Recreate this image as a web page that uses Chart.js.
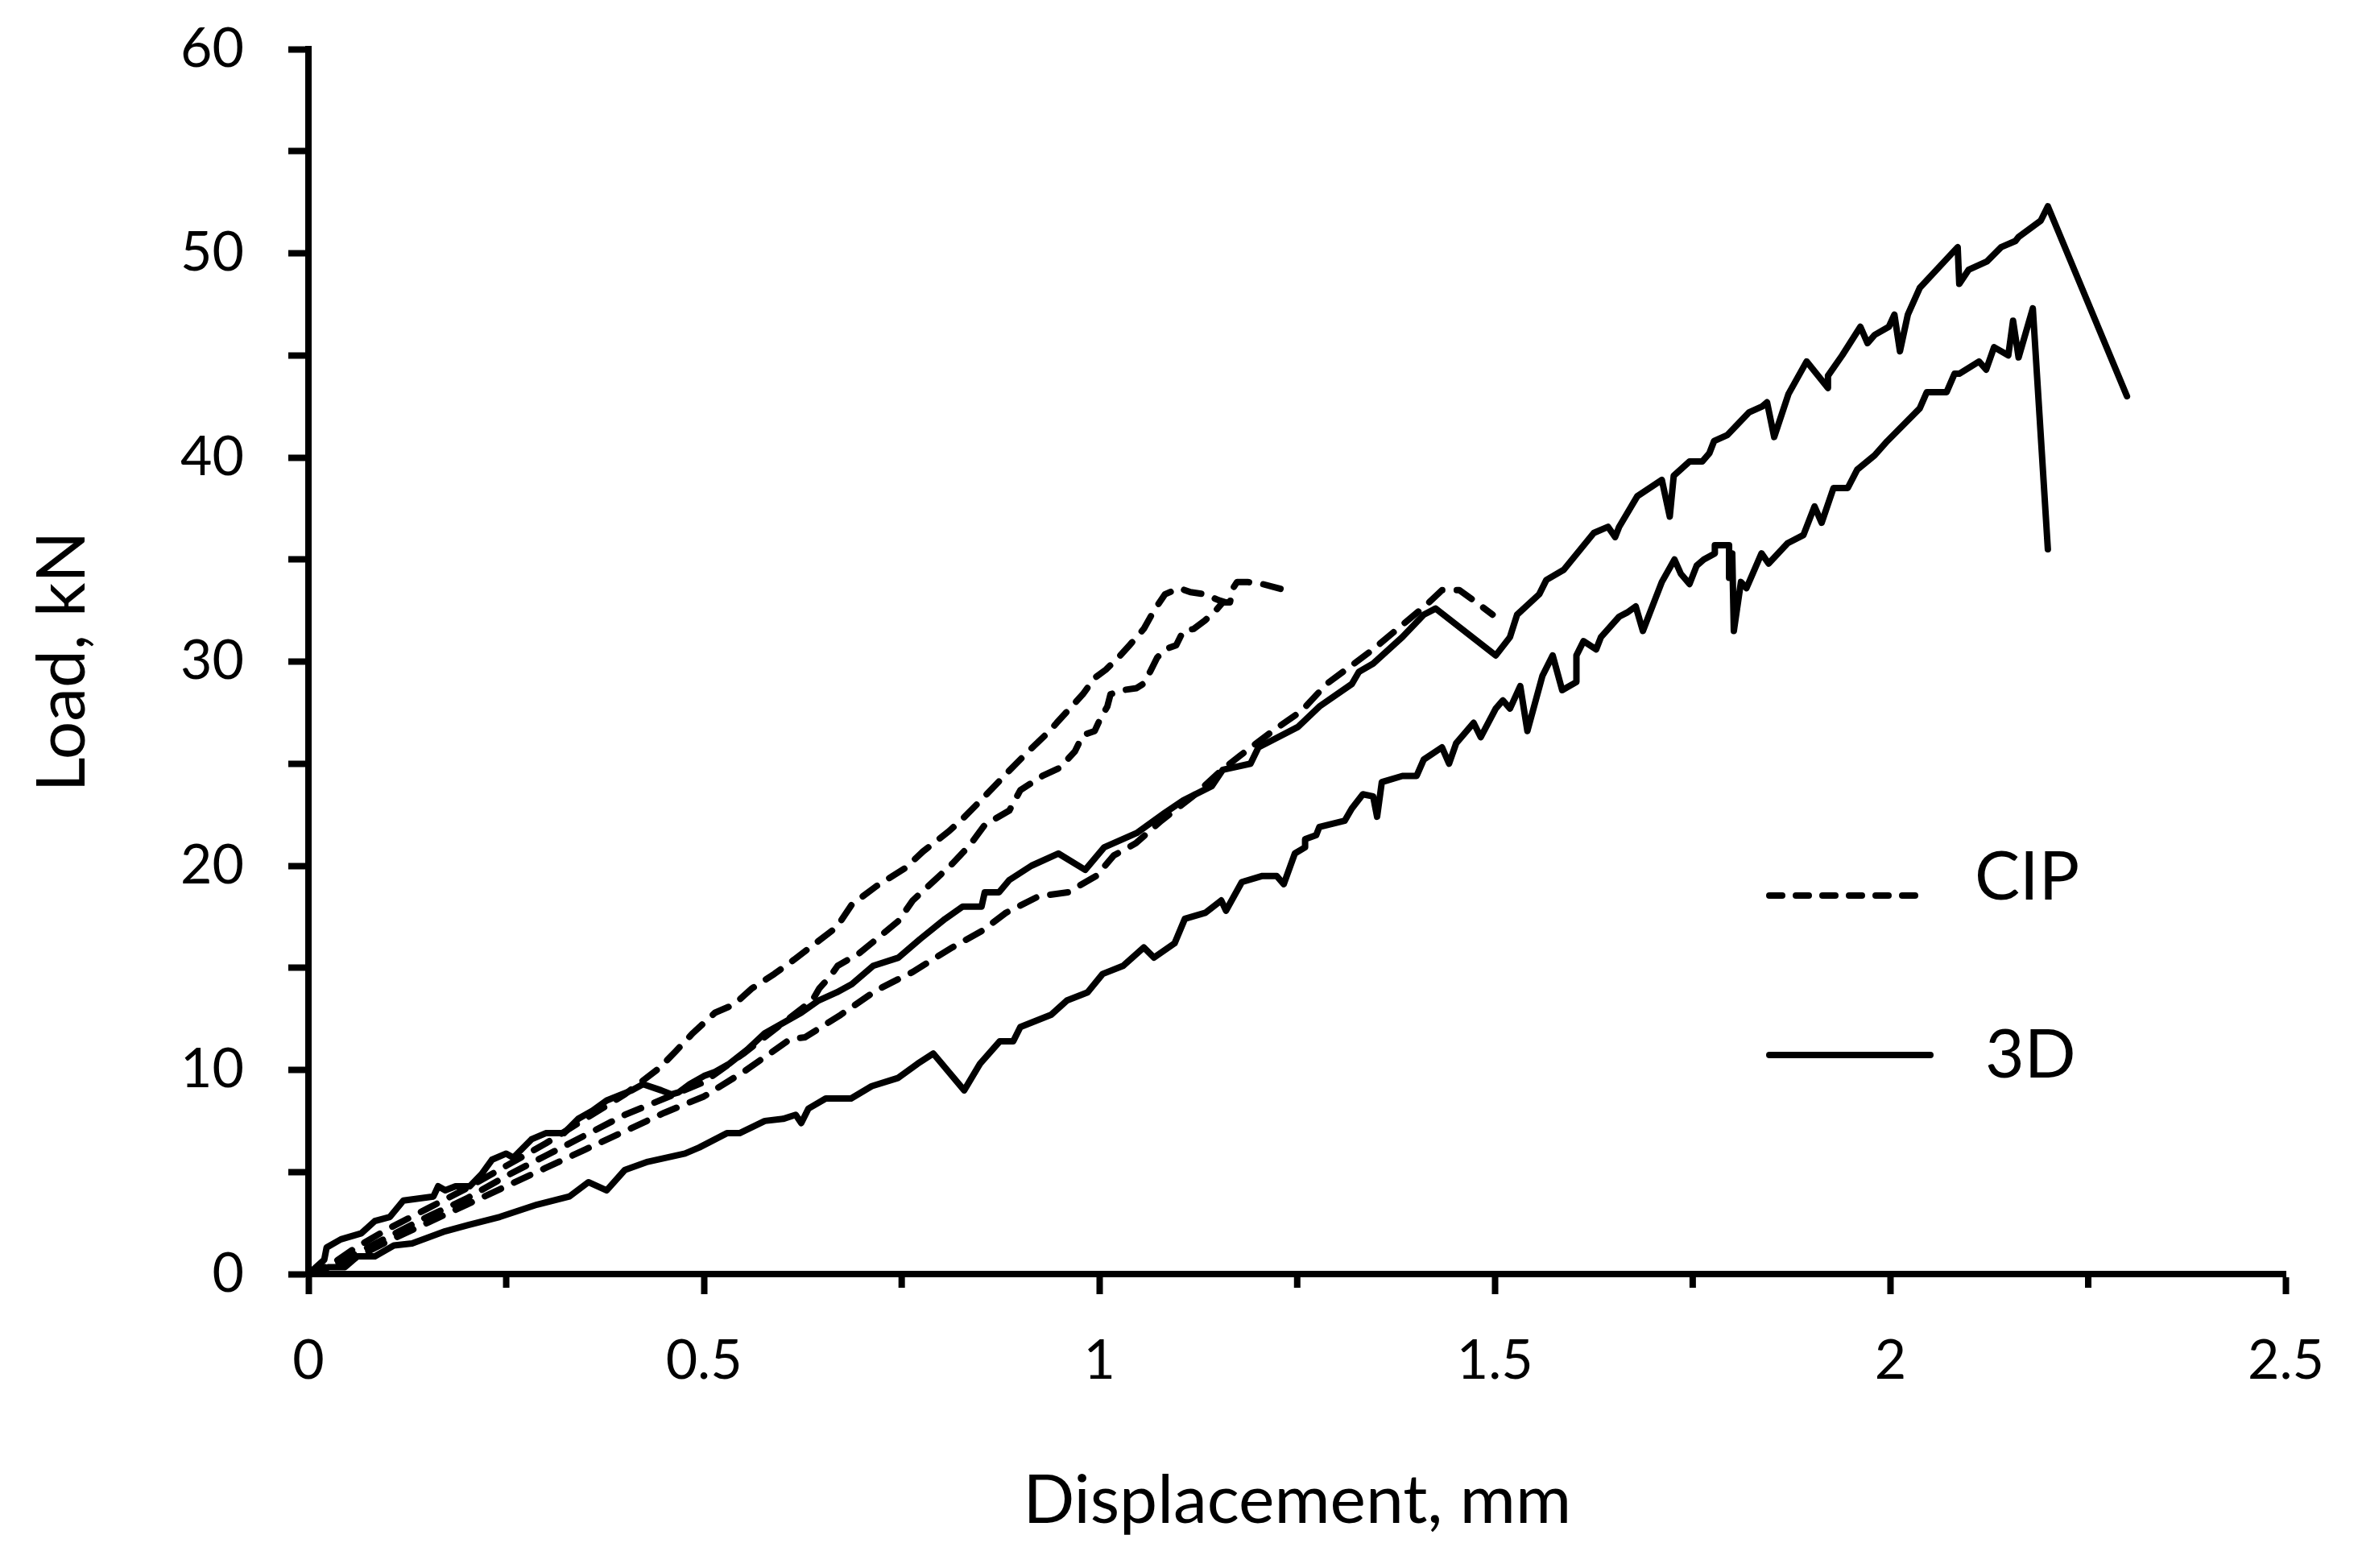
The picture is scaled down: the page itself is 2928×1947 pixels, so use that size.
<!DOCTYPE html>
<html>
<head>
<meta charset="utf-8">
<script src="https://cdn.jsdelivr.net/npm/chart.js@4.4.1/dist/chart.umd.min.js"></script>
<style>
  html, body { margin: 0; padding: 0; background: #fff; }
  #chart { display: block; }
</style>
</head>
<body>
<canvas id="chart" width="2928" height="1947"></canvas>
<script>
// Load-displacement curves, [displacement mm, load kN]
const cip1 = [[0,0],[0.03,0.5],[0.06,1.3],[0.1,2.2],[0.15,3.2],[0.2,4.2],[0.25,5.3],[0.3,6.4],[0.35,7.6],[0.4,8.8],[0.444,10.1],[0.464,10.9],[0.486,11.8],[0.514,12.8],[0.538,13.2],[0.561,14.0],[0.589,14.7],[0.614,15.4],[0.641,16.2],[0.668,17.0],[0.687,18.1],[0.718,19.0],[0.755,19.9],[0.777,20.7],[0.81,21.7],[0.827,22.3],[0.855,23.4],[0.882,24.5],[0.91,25.6],[0.937,26.6],[0.946,27.0],[0.979,28.4],[0.994,29.2],[1.008,29.6],[1.024,30.2],[1.038,30.8],[1.056,31.6],[1.069,32.5],[1.083,33.3],[1.101,33.6],[1.115,33.4],[1.133,33.3],[1.151,33.0],[1.16,32.9]];

const cip2 = [[0,0],[0.03,0.4],[0.06,1.0],[0.1,1.8],[0.15,2.8],[0.2,3.7],[0.25,4.8],[0.3,5.8],[0.35,6.8],[0.4,7.8],[0.45,8.6],[0.5,9.4],[0.55,10.8],[0.6,12.3],[0.637,13.4],[0.646,14.0],[0.66,14.6],[0.669,15.1],[0.696,15.7],[0.718,16.4],[0.746,17.3],[0.764,18.3],[0.792,19.3],[0.814,20.1],[0.836,21.0],[0.855,22.0],[0.886,22.7],[0.9,23.7],[0.928,24.4],[0.95,24.8],[0.969,25.6],[0.979,26.4],[0.994,26.6],[1.001,27.2],[1.01,27.8],[1.014,28.4],[1.029,28.6],[1.047,28.7],[1.055,28.9],[1.064,29.5],[1.073,30.2],[1.083,30.6],[1.097,30.8],[1.106,31.5],[1.119,31.6],[1.133,32.0],[1.147,32.5],[1.156,32.9],[1.165,32.9],[1.169,33.6],[1.174,33.9],[1.187,33.9],[1.206,33.8],[1.235,33.5]];

const cip3 = [[0,0],[0.03,0.3],[0.06,0.8],[0.1,1.6],[0.15,2.5],[0.2,3.4],[0.25,4.3],[0.3,5.2],[0.35,6.1],[0.4,7.0],[0.45,7.9],[0.5,8.7],[0.55,9.9],[0.609,11.5],[0.628,11.6],[0.673,12.7],[0.718,13.9],[0.764,14.8],[0.814,16.0],[0.851,16.8],[0.882,17.7],[0.923,18.5],[0.96,18.7],[0.996,19.5],[1.018,20.5],[1.046,21.1],[1.078,22.2],[1.118,23.4],[1.155,24.7],[1.178,25.4],[1.219,26.6],[1.256,27.6],[1.287,28.9],[1.315,29.7],[1.346,30.6],[1.383,31.8],[1.414,32.8],[1.433,33.5],[1.455,33.5],[1.473,33.0],[1.497,32.3]];

const print1 = [[0,0],[0.02,0.7],[0.023,1.3],[0.041,1.7],[0.067,2.0],[0.084,2.6],[0.103,2.8],[0.12,3.6],[0.158,3.8],[0.164,4.3],[0.173,4.1],[0.186,4.3],[0.204,4.3],[0.219,4.9],[0.232,5.6],[0.25,5.9],[0.259,5.7],[0.282,6.6],[0.3,6.9],[0.323,6.9],[0.341,7.6],[0.359,8.0],[0.377,8.5],[0.396,8.8],[0.409,9.0],[0.423,9.3],[0.446,9.0],[0.459,8.8],[0.468,8.9],[0.482,9.3],[0.5,9.7],[0.514,9.9],[0.532,10.3],[0.555,11.0],[0.577,11.8],[0.6,12.3],[0.623,12.8],[0.645,13.4],[0.668,13.8],[0.687,14.2],[0.714,15.1],[0.746,15.5],[0.773,16.4],[0.805,17.4],[0.827,18.0],[0.851,18.0],[0.855,18.7],[0.873,18.7],[0.886,19.3],[0.914,20.0],[0.948,20.6],[0.982,19.8],[1.006,20.9],[1.047,21.6],[1.083,22.6],[1.106,23.2],[1.142,23.9],[1.156,24.7],[1.191,25.0],[1.201,25.8],[1.251,26.8],[1.278,27.8],[1.319,28.9],[1.328,29.5],[1.346,29.9],[1.383,31.2],[1.41,32.3],[1.425,32.6],[1.501,30.3],[1.519,31.2],[1.528,32.3],[1.556,33.3],[1.565,34.0],[1.587,34.5],[1.625,36.3],[1.643,36.6],[1.652,36.1],[1.657,36.6],[1.68,38.1],[1.711,38.9],[1.721,37.1],[1.726,39.1],[1.746,39.8],[1.762,39.8],[1.771,40.2],[1.777,40.8],[1.794,41.1],[1.821,42.2],[1.838,42.5],[1.844,42.7],[1.853,41.0],[1.871,43.1],[1.894,44.7],[1.921,43.4],[1.921,44.0],[1.939,45.0],[1.962,46.4],[1.971,45.6],[1.98,46.0],[1.998,46.4],[2.005,47.0],[2.012,45.2],[2.022,47.0],[2.037,48.3],[2.085,50.3],[2.087,48.5],[2.099,49.2],[2.122,49.6],[2.14,50.3],[2.158,50.6],[2.162,50.8],[2.19,51.6],[2.199,52.3],[2.299,43.0]];

const print2 = [[0,0],[0.026,0.34],[0.046,0.34],[0.062,0.87],[0.084,0.87],[0.108,1.4],[0.131,1.5],[0.173,2.1],[0.202,2.4],[0.242,2.8],[0.289,3.4],[0.33,3.8],[0.354,4.5],[0.377,4.1],[0.4,5.1],[0.429,5.5],[0.476,5.9],[0.494,6.2],[0.529,6.9],[0.545,6.9],[0.577,7.5],[0.6,7.6],[0.616,7.8],[0.623,7.4],[0.632,8.1],[0.654,8.6],[0.686,8.6],[0.712,9.2],[0.745,9.6],[0.77,10.3],[0.79,10.8],[0.829,9.0],[0.849,10.3],[0.874,11.4],[0.891,11.4],[0.9,12.1],[0.939,12.7],[0.959,13.4],[0.985,13.8],[1.004,14.7],[1.03,15.1],[1.056,16.0],[1.069,15.5],[1.095,16.2],[1.108,17.4],[1.134,17.7],[1.154,18.3],[1.16,17.8],[1.18,19.2],[1.206,19.5],[1.224,19.5],[1.233,19.1],[1.247,20.6],[1.26,20.9],[1.26,21.3],[1.274,21.5],[1.278,21.9],[1.31,22.2],[1.319,22.8],[1.333,23.5],[1.346,23.4],[1.351,22.4],[1.357,24.1],[1.383,24.4],[1.401,24.4],[1.41,25.2],[1.433,25.8],[1.442,25.0],[1.451,26.0],[1.473,27.0],[1.482,26.3],[1.501,27.7],[1.51,28.1],[1.519,27.7],[1.532,28.8],[1.541,26.6],[1.56,29.3],[1.573,30.3],[1.585,28.6],[1.603,29.0],[1.603,30.3],[1.612,31.0],[1.628,30.6],[1.634,31.2],[1.657,32.2],[1.667,32.4],[1.678,32.7],[1.687,31.5],[1.703,33.1],[1.711,33.9],[1.727,35.0],[1.735,34.3],[1.746,33.8],[1.755,34.7],[1.764,35.0],[1.778,35.3],[1.778,35.7],[1.796,35.7],[1.796,34.1],[1.8,35.3],[1.802,31.5],[1.811,33.9],[1.818,33.6],[1.837,35.3],[1.846,34.8],[1.87,35.8],[1.89,36.2],[1.904,37.6],[1.913,36.8],[1.928,38.5],[1.946,38.5],[1.958,39.4],[1.98,40.1],[1.996,40.8],[2.037,42.4],[2.046,43.2],[2.071,43.2],[2.081,44.1],[2.087,44.1],[2.112,44.7],[2.121,44.3],[2.131,45.4],[2.149,45.0],[2.155,46.7],[2.162,44.9],[2.18,47.3],[2.199,35.5]];

const legendLabels = ['CIP', '3D'];
const xTitle = 'Displacement, mm';
const yTitle = 'Load, kN';

const FONT = 'Lato, "Open Sans", sans-serif';
const DASH = [22, 18];

function isHalf(v) {
  return Math.abs(v * 2 - Math.round(v * 2)) < 1e-9;
}

function toPoints(arr) {
  return arr.map(p => ({ x: p[0], y: p[1] }));
}

function curve(label, arr, dashed) {
  return {
    label: label,
    data: toPoints(arr),
    showLine: true,
    borderColor: '#000',
    backgroundColor: '#000',
    borderWidth: 8,
    borderDash: dashed ? DASH : [],
    borderCapStyle: 'round',
    borderJoinStyle: 'round',
    pointRadius: 0,
    tension: 0
  };
}

// short ticks at the quarter marks of the x axis
const minorTicks = {
  id: 'minorTicks',
  afterDraw(chart) {
    const xs = chart.scales.x;
    const c = chart.ctx;
    c.save();
    c.strokeStyle = '#000';
    c.lineWidth = 8;
    xs.ticks.forEach(t => {
      if (isHalf(t.value)) return;
      const px = xs.getPixelForValue(t.value);
      c.beginPath();
      c.moveTo(px, xs.top);
      c.lineTo(px, xs.top + 17);
      c.stroke();
    });
    c.restore();
  }
};

// legend drawn inside the plot, line sample then label
const sideLegend = {
  id: 'sideLegend',
  afterDraw(chart) {
    const c = chart.ctx;
    const a = chart.chartArea;
    const x0 = a.left + 1814;
    c.save();
    c.strokeStyle = '#000';
    c.lineWidth = 8;
    c.lineCap = 'round';

    c.setLineDash([16, 17]);
    c.beginPath();
    c.moveTo(x0, a.top + 1051);
    c.lineTo(x0 + 183, a.top + 1051);
    c.stroke();

    c.setLineDash([]);
    c.beginPath();
    c.moveTo(x0, a.top + 1249);
    c.lineTo(x0 + 200, a.top + 1249);
    c.stroke();

    c.fillStyle = '#000';
    c.font = '84px ' + FONT;
    c.textBaseline = 'alphabetic';
    c.textAlign = 'left';
    c.fillText(legendLabels[0], a.left + 2069, a.top + 1056);
    c.fillText(legendLabels[1], a.left + 2082, a.top + 1277);
    c.restore();
  }
};

const ctx = document.getElementById('chart').getContext('2d');

new Chart(ctx, {
  type: 'scatter',
  data: {
    datasets: [
      curve(legendLabels[0], cip1, true),
      curve(legendLabels[0], cip2, true),
      curve(legendLabels[0], cip3, true),
      curve(legendLabels[1], print1, false),
      curve(legendLabels[1], print2, false)
    ]
  },
  options: {
    responsive: false,
    animation: false,
    devicePixelRatio: 1,
    layout: { padding: { top: 61, right: 88, left: 0, bottom: 0 } },
    plugins: {
      legend: { display: false },
      tooltip: { enabled: false }
    },
    scales: {
      x: {
        type: 'linear',
        min: 0,
        max: 2.5,
        afterFit: s => { s.height = 365; },
        border: { color: '#000', width: 8 },
        grid: {
          drawOnChartArea: false,
          tickLength: 25,
          tickWidth: 8,
          tickColor: c => (c.tick && isHalf(c.tick.value)) ? '#000' : 'rgba(0,0,0,0)'
        },
        ticks: {
          stepSize: 0.25,
          autoSkip: false,
          maxRotation: 0,
          color: '#000',
          padding: 42,
          font: { family: FONT, size: 68 },
          callback: v => isHalf(v) ? String(v) : ''
        },
        title: {
          display: true,
          text: xTitle,
          color: '#000',
          font: { family: FONT, size: 84 },
          padding: { top: 0, bottom: 33 }
        }
      },
      y: {
        type: 'linear',
        min: 0,
        max: 60,
        afterFit: s => {
          s.width = 383;
          s.paddingTop = 30;
          s.paddingBottom = 30;
        },
        border: { color: '#000', width: 8 },
        grid: {
          drawOnChartArea: false,
          tickLength: 25,
          tickWidth: 8,
          tickColor: '#000'
        },
        ticks: {
          stepSize: 5,
          autoSkip: false,
          color: '#000',
          padding: 55,
          font: { family: FONT, size: 68 },
          callback: v => (v % 10 === 0) ? String(v) : ''
        },
        title: {
          display: true,
          text: yTitle,
          color: '#000',
          font: { family: FONT, size: 84 },
          padding: { top: 28, bottom: 0 }
        }
      }
    }
  },
  plugins: [minorTicks, sideLegend]
});
</script>
</body>
</html>
